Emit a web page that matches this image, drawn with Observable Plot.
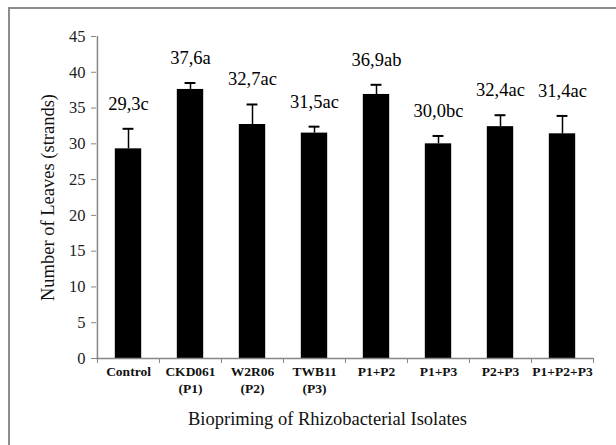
<!DOCTYPE html>
<html>
<head>
<meta charset="utf-8">
<script src="https://cdn.jsdelivr.net/npm/d3@7"></script>
<script src="https://cdn.jsdelivr.net/npm/@observablehq/plot@0.6"></script>
<style>
  html, body { margin: 0; padding: 0; background: #fff; }
  #wrap { position: relative; width: 616px; height: 445px; overflow: hidden; }
  #border { position: absolute; left: 8px; top: 7px; width: 700px; height: 500px;
            border-left: 2px solid #8c8c8c; border-top: 2px solid #8c8c8c; }
  #chart { position: absolute; left: 0; top: 0; }
  #chart svg, #chart svg text { font-family: "Liberation Serif", "Times New Roman", serif !important; }
</style>
</head>
<body>
<div id="wrap"><div id="border"></div><div id="chart"></div></div>
<script>
const categories = ["Control", "CKD061\n(P1)", "W2R06\n(P2)", "TWB11\n(P3)", "P1+P2", "P1+P3", "P2+P3", "P1+P2+P3"];
const values = [29.3, 37.6, 32.7, 31.5, 36.9, 30.0, 32.4, 31.4];
const errors = [2.8, 0.9, 2.8, 0.9, 1.35, 1.1, 1.6, 2.5];
const letters = ["c", "a", "ac", "ac", "ab", "bc", "ac", "ac"];
const yTicks = [0, 5, 10, 15, 20, 25, 30, 35, 40, 45];
const xTitle = "Biopriming of Rhizobacterial Isolates";
const yTitle = "Number of Leaves (strands)";

const data = categories.map((c, i) => ({
  cat: c, v: values[i], e: errors[i],
  label: values[i].toFixed(1).replace(".", ",") + letters[i]
}));

const W = 616, H = 445, mL = 96, mR = 23, mT = 36, mB = 87;
const step = (W - mL - mR) / categories.length;
const barW = 26.5, capW = 11;
const grey = "#868686";
const serif = "Liberation Serif";

const plot = Plot.plot({
  width: W, height: H,
  marginLeft: mL, marginRight: mR, marginTop: mT, marginBottom: mB,
  style: {fontFamily: serif, background: "transparent", overflow: "visible"},
  x: {domain: categories, padding: 0, axis: null},
  y: {domain: [0, 45], axis: null},
  marks: [
    Plot.barY(data, {x: "cat", y: "v", fill: "#000",
      insetLeft: (step - barW) / 2, insetRight: (step - barW) / 2}),
    Plot.ruleX(data, {x: "cat", y1: "v", y2: d => d.v + d.e, stroke: "#000", strokeWidth: 1.5}),
    Plot.tickY(data, {x: "cat", y: d => d.v + d.e, stroke: "#000", strokeWidth: 2,
      insetLeft: (step - capW) / 2, insetRight: (step - capW) / 2}),
    Plot.text(data, {x: "cat", y: d => d.v + d.e, text: "label", dy: -25,
      fontSize: 18.5, fontFamily: serif, fill: "#000"}),
    // axes lines
    Plot.ruleY([0], {stroke: grey, strokeWidth: 1.5}),
    Plot.ruleX([categories[0]], {x: d => d, y1: 0, y2: 45, dx: -step / 2, stroke: grey, strokeWidth: 1.5}),
    // y axis ticks and labels
    Plot.axisY({ticks: yTicks, tickSize: 5, tickPadding: 6, stroke: grey, fontSize: 16.5,
      fontFamily: serif, fill: "#222", label: null}),
    // x axis boundary ticks
    Plot.axisX({ticks: categories, tickSize: 5, dx: -step / 2, stroke: grey,
      tickFormat: () => "", label: null}),
    Plot.axisX({ticks: [categories[categories.length - 1]], tickSize: 5, dx: step / 2, stroke: grey,
      tickFormat: () => "", label: null}),
    // x tick labels
    Plot.axisX({ticks: categories, tickSize: 0, tickPadding: 6, fontSize: 13.5, fontFamily: serif,
      fontWeight: "bold", lineHeight: 1.22, fill: "#111", label: null}),
    // axis titles
    Plot.text([xTitle], {frameAnchor: "bottom", lineAnchor: "middle", dy: 61, dx: -17.5,
      fontSize: 18.5, fontFamily: serif, fill: "#111"}),
    Plot.text([yTitle], {frameAnchor: "left", textAnchor: "middle", dx: -48, rotate: -90,
      fontSize: 18.5, fontFamily: serif, fill: "#111"})
  ]
});
document.getElementById("chart").appendChild(plot);
</script>
</body>
</html>
